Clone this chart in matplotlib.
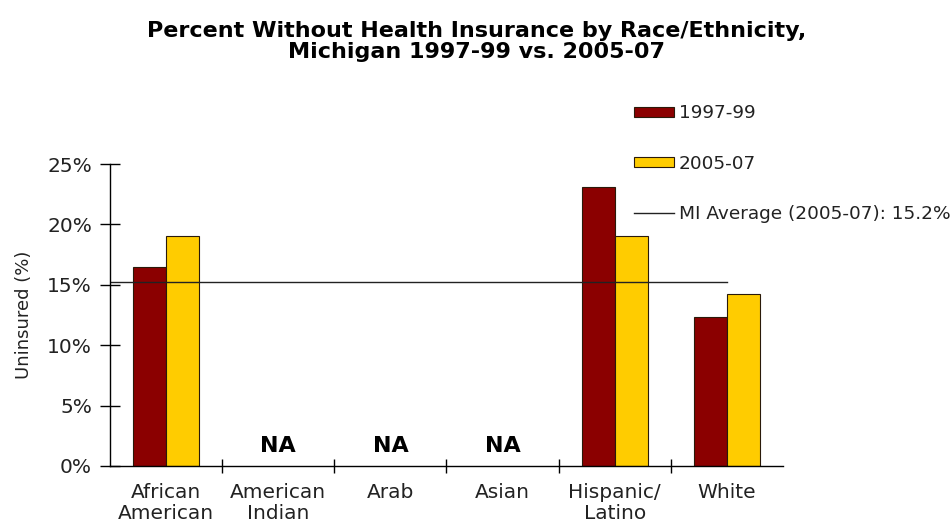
import matplotlib.pyplot as plt
import numpy as np
from matplotlib.lines import Line2D
from matplotlib.patches import Patch
from matplotlib.ticker import FuncFormatter

plt.rcParams["font.family"] = ["DejaVu Sans"]

categories = ["African\nAmerican", "American\nIndian", "Arab", "Asian", "Hispanic/\nLatino", "White"]
values_1997 = [16.5, np.nan, np.nan, np.nan, 23.1, 12.3]
values_2005 = [19.0, np.nan, np.nan, np.nan, 19.0, 14.2]
na_flags = [False, True, True, True, False, False]
mi_average = 15.2

fig = plt.figure(figsize=(9.53, 5.22), dpi=100)
ax = fig.add_axes([0.1154, 0.1073, 0.7062, 0.5785])

x = np.arange(len(categories))
width = 0.295
ax.bar(x - width / 2, values_1997, width, color="#8B0000", edgecolor="#2a1a0a", linewidth=0.8)
ax.bar(x + width / 2, values_2005, width, color="#FFCC00", edgecolor="#2a1a0a", linewidth=0.8)
ax.plot([-0.5, x[-1]], [mi_average, mi_average], color="#222222", linewidth=1.0)

for xi, na in zip(x, na_flags):
    if na:
        ax.text(xi, 0.8, "NA", ha="center", va="bottom", fontsize=16, fontweight="bold")

ax.set_xlim(-0.5, len(categories) - 0.5)
ax.set_ylim(0, 25)
ax.set_yticks(np.arange(0, 26, 5))
ax.yaxis.set_major_formatter(FuncFormatter(lambda v, _: f"{v:.0f}%"))
ax.set_xticks(x)
ax.set_xticklabels(categories, fontsize=14.5, color="#222222", linespacing=1.15)
ax.set_xticks(np.arange(0.5, len(categories) - 0.5, 1), minor=True)
ax.tick_params(axis="x", which="major", length=0, pad=12)
ax.tick_params(axis="x", which="minor", direction="inout", length=10, width=1)
ax.tick_params(axis="y", direction="inout", length=14, width=1, labelsize=14.5,
               labelcolor="#222222", pad=6)
for side in ("top", "right"):
    ax.spines[side].set_visible(False)
ax.spines["left"].set_linewidth(1)
ax.spines["bottom"].set_linewidth(1)
ax.set_ylabel("Uninsured (%)", fontsize=13, labelpad=10, color="#222222")

handles = [
    Patch(facecolor="#8B0000", edgecolor="#2a1a0a", linewidth=0.8),
    Patch(facecolor="#FFCC00", edgecolor="#2a1a0a", linewidth=0.8),
    Line2D([0], [0], color="#222222", linewidth=1.0),
]
labels = ["1997-99", "2005-07", f"MI Average (2005-07): {mi_average}%"]
fig.legend(handles, labels, loc="upper left", bbox_to_anchor=(0.665, 0.800),
           frameon=False, fontsize=13.3, labelspacing=1.75, handlelength=2.2,
           handleheight=0.5, handletextpad=0.25, borderaxespad=0, borderpad=0,
           labelcolor="#222222")

fig.text(0.5, 0.921, "Percent Without Health Insurance by Race/Ethnicity,\nMichigan 1997-99 vs. 2005-07",
         ha="center", va="center", fontsize=16, fontweight="bold", linespacing=1.05)

fig.savefig("out.png", dpi=100)
